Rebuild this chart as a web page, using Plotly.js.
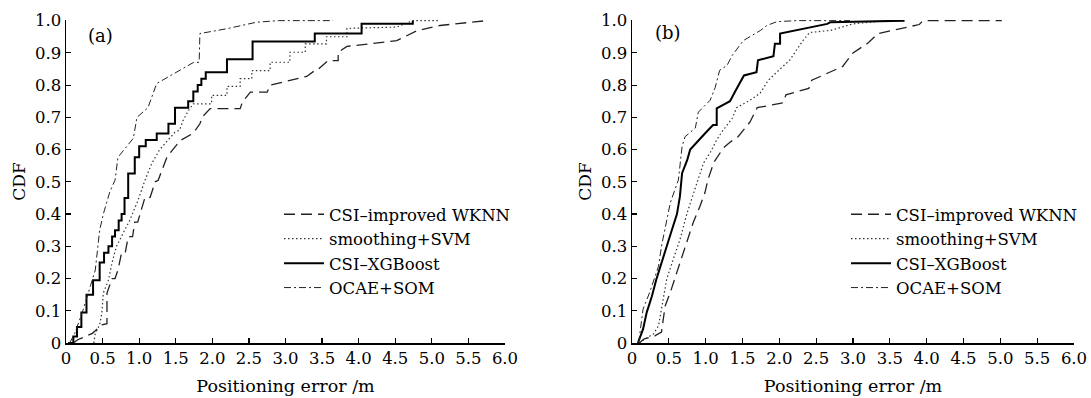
<!DOCTYPE html>
<html>
<head>
<meta charset="utf-8">
<script src="https://cdn.plot.ly/plotly-3.0.1.min.js"></script>
<style>html,body{margin:0;padding:0;background:#fff;}#chart{width:1091px;height:398px;}</style>
</head>
<body>
<div id="chart"></div>
<script>
// ---------- data ----------
const seriesNames = ['CSI\u2013improved WKNN', 'smoothing+SVM', 'CSI\u2013XGBoost', 'OCAE+SOM'];

const xTickVals = [0, 0.5, 1, 1.5, 2, 2.5, 3, 3.5, 4, 4.5, 5, 5.5, 6];
const xTickText = ['0', '0.5', '1.0', '1.5', '2.0', '2.5', '3.0', '3.5', '4.0', '4.5', '5.0', '5.5', '6.0'];
const yTickVals = [0, 0.1, 0.2, 0.3, 0.4, 0.5, 0.6, 0.7, 0.8, 0.9, 1.0];
const yTickText = ['0', '0.1', '0.2', '0.3', '0.4', '0.5', '0.6', '0.7', '0.8', '0.9', '1.0'];

// panel (a)
const aWknnX = [0.10,0.16,0.36,0.49,0.56,0.56,0.63,0.67,0.71,0.76,0.81,0.85,0.91,0.94,0.98,1.01,1.08,1.15,1.22,1.26,1.38,1.46,1.56,1.74,1.83,1.87,1.97,2.38,2.41,2.52,2.75,2.79,3.26,3.29,3.43,3.45,3.58,3.72,3.72,3.84,4.52,4.8,5.11,5.75];
const aWknnY = [0,0.01,0.03,0.056,0.06,0.155,0.20,0.20,0.226,0.28,0.28,0.33,0.33,0.375,0.375,0.40,0.452,0.452,0.50,0.505,0.577,0.60,0.628,0.651,0.68,0.703,0.727,0.727,0.747,0.778,0.778,0.80,0.827,0.827,0.85,0.85,0.876,0.876,0.902,0.92,0.938,0.969,0.985,1.0];

const aSvmX = [0.38,0.40,0.46,0.49,0.51,0.58,0.63,0.69,0.78,0.87,0.98,1.08,1.17,1.28,1.49,1.55,1.6,1.67,1.74,1.99,1.99,2.2,2.2,2.38,2.38,2.54,2.54,2.79,2.79,3.06,3.06,3.27,3.27,3.56,3.56,3.84,3.84,4.52,4.74,5.1];
const aSvmY = [0,0.03,0.056,0.093,0.155,0.195,0.25,0.30,0.34,0.38,0.44,0.505,0.556,0.60,0.654,0.66,0.69,0.72,0.742,0.742,0.768,0.768,0.796,0.796,0.82,0.82,0.845,0.845,0.871,0.871,0.902,0.902,0.928,0.928,0.95,0.95,0.976,0.98,1.0,1.0];

const aXgbX = [0.03,0.10,0.15,0.21,0.28,0.37,0.46,0.52,0.58,0.63,0.67,0.72,0.76,0.80,0.85,0.94,1.00,1.09,1.24,1.40,1.49,1.67,1.74,1.80,1.85,1.91,2.20,2.55,3.40,4.04,4.74];
const aXgbY = [0,0.02,0.05,0.095,0.15,0.195,0.25,0.28,0.30,0.33,0.35,0.38,0.40,0.45,0.526,0.576,0.61,0.63,0.65,0.68,0.73,0.75,0.78,0.80,0.82,0.84,0.88,0.935,0.96,0.99,1.0];

const aOcaeX = [0.05,0.12,0.23,0.40,0.46,0.51,0.60,0.67,0.71,0.92,0.97,1.12,1.24,1.74,1.82,1.83,2.2,2.6,2.9,3.65];
const aOcaeY = [0,0.03,0.10,0.226,0.35,0.40,0.47,0.505,0.576,0.635,0.70,0.73,0.805,0.87,0.871,0.96,0.975,0.995,1.0,1.0];

// panel (b)
const bWknnX = [0.10,0.16,0.31,0.40,0.45,0.52,0.61,0.68,0.76,0.83,0.92,0.99,1.03,1.11,1.24,1.33,1.44,1.6,1.7,2.05,2.09,2.4,2.44,2.69,2.86,3.0,3.2,3.34,3.9,3.95,5.02];
const bWknnY = [0,0.012,0.022,0.034,0.115,0.157,0.22,0.27,0.32,0.373,0.423,0.466,0.506,0.56,0.605,0.623,0.64,0.685,0.73,0.745,0.77,0.79,0.815,0.84,0.858,0.90,0.93,0.96,0.988,1.0,1.0];

const bSvmX = [0.10,0.16,0.29,0.36,0.40,0.47,0.56,0.65,0.75,0.88,0.97,1.06,1.15,1.22,1.36,1.42,1.6,1.74,1.85,2.01,2.14,2.32,2.41,2.7,3.0,3.4,3.68];
const bSvmY = [0,0.01,0.028,0.053,0.105,0.197,0.26,0.32,0.405,0.50,0.558,0.59,0.63,0.655,0.697,0.73,0.753,0.775,0.815,0.85,0.877,0.938,0.963,0.97,0.99,0.999,1.0];

const bXgbX = [0.08,0.11,0.15,0.20,0.27,0.33,0.40,0.47,0.54,0.61,0.65,0.68,0.75,0.79,0.88,0.99,1.10,1.15,1.15,1.33,1.40,1.45,1.52,1.69,1.71,1.76,1.92,1.94,2.01,2.01,2.65,2.69,3.7];
const bXgbY = [0,0.02,0.043,0.095,0.145,0.197,0.25,0.30,0.35,0.40,0.454,0.527,0.568,0.60,0.624,0.65,0.676,0.676,0.728,0.75,0.78,0.80,0.83,0.84,0.877,0.88,0.89,0.928,0.928,0.96,0.99,0.995,1.0];

const bOcaeX = [0.09,0.11,0.15,0.24,0.36,0.40,0.52,0.63,0.65,0.68,0.72,0.86,0.90,1.06,1.13,1.19,1.29,1.36,1.51,1.74,1.83,1.97,2.24,2.96];
const bOcaeY = [0,0.034,0.105,0.157,0.238,0.30,0.435,0.506,0.546,0.61,0.64,0.667,0.716,0.753,0.793,0.846,0.861,0.892,0.938,0.969,0.985,0.997,1.0,1.0];

// ---------- styles ----------
const styles = [
  {color:'#222', width:1.3, dash:'11px,6px'},
  {color:'#333', width:1.2, dash:'1.5px,2.5px'},
  {color:'#000', width:2.0, dash:'solid'},
  {color:'#222', width:1.0, dash:'7px,3px,2px,3px'}
];

function tr(x, y, i, xa, ya, leg, shape) {
  return {
    x: x, y: y, type:'scatter', mode:'lines', name: seriesNames[i],
    xaxis: xa, yaxis: ya, legend: leg, showlegend: true,
    line: {color: styles[i].color, width: styles[i].width, dash: styles[i].dash, shape: shape || 'linear'},
    hoverinfo:'skip'
  };
}

const data = [
  tr(aWknnX, aWknnY, 0, 'x', 'y', 'legend'),
  tr(aSvmX, aSvmY, 1, 'x', 'y', 'legend'),
  tr(aXgbX, aXgbY, 2, 'x', 'y', 'legend', 'hv'),
  tr(aOcaeX, aOcaeY, 3, 'x', 'y', 'legend'),
  tr(bWknnX, bWknnY, 0, 'x2', 'y2', 'legend2'),
  tr(bSvmX, bSvmY, 1, 'x2', 'y2', 'legend2'),
  tr(bXgbX, bXgbY, 2, 'x2', 'y2', 'legend2'),
  tr(bOcaeX, bOcaeY, 3, 'x2', 'y2', 'legend2')
];

const W = 1091, H = 398;
const FONT = 'DejaVu Serif';
const INK = '#000';
function xAx(dom, anchor) {
  return {
    domain: dom, anchor: anchor, range: [0, 6], fixedrange: true,
    tickmode: 'array', tickvals: xTickVals, ticktext: xTickText,
    ticks: 'inside', ticklen: 5, tickwidth: 1.2, tickcolor: '#000',
    showline: true, linecolor: '#000', linewidth: 1.5,
    showgrid: false, zeroline: false,
    tickfont: {family: FONT, size: 16.5, color: INK},
    title: {text: 'Positioning error /m', font: {family: FONT, size: 17.5, color: INK}, standoff: 12}
  };
}
function yAx(anchor) {
  return {
    domain: [1 - 343 / H, 1 - 20 / H], anchor: anchor, range: [0, 1.002], fixedrange: true,
    tickmode: 'array', tickvals: yTickVals, ticktext: yTickText,
    ticks: 'inside', ticklen: 5, tickwidth: 1.2, tickcolor: '#000',
    showline: true, linecolor: '#000', linewidth: 1.5,
    showgrid: false, zeroline: false,
    tickfont: {family: FONT, size: 16.5, color: INK},
    title: {text: 'CDF', font: {family: FONT, size: 17, color: INK}, standoff: 5}
  };
}
function leg(xpx) {
  return {
    x: xpx / W, y: 1 - 197 / H, xanchor: 'left', yanchor: 'top',
    bgcolor: 'rgba(0,0,0,0)', borderwidth: 0, itemwidth: 40,
    font: {family: FONT, size: 16.5, color: INK}, tracegroupgap: 0,
    itemclick: false, itemdoubleclick: false
  };
}

const layout = {
  width: W, height: H,
  margin: {l: 0, r: 0, t: 0, b: 0},
  paper_bgcolor: '#fff', plot_bgcolor: '#fff',
  font: {family: FONT, size: 16, color: INK},
  xaxis: xAx([66 / W, 505 / W], 'y'),
  yaxis: yAx('x'),
  xaxis2: xAx([632 / W, 1074 / W], 'y2'),
  yaxis2: yAx('x2'),
  legend: leg(279),
  legend2: leg(846),
  annotations: [
    {text: '(a)', xref: 'paper', yref: 'paper', x: 100 / W, y: 1 - 36 / H, showarrow: false,
     xanchor: 'center', yanchor: 'middle', font: {family: FONT, size: 18, color: INK}},
    {text: '(b)', xref: 'paper', yref: 'paper', x: 668 / W, y: 1 - 33 / H, showarrow: false,
     xanchor: 'center', yanchor: 'middle', font: {family: FONT, size: 18, color: INK}}
  ],
  showlegend: true
};

Plotly.newPlot('chart', data, layout, {displayModeBar: false, staticPlot: true});
</script>
</body>
</html>
